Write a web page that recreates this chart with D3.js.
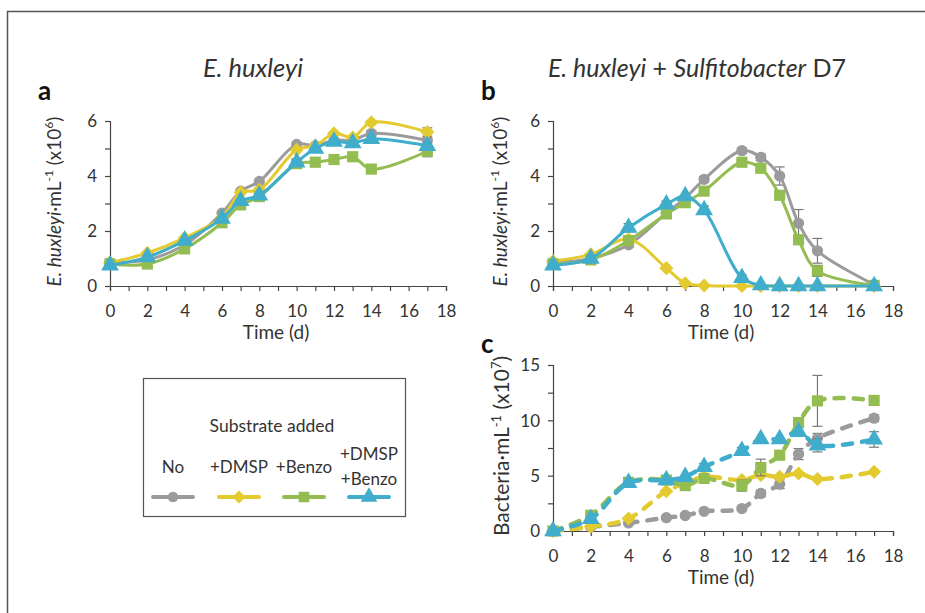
<!DOCTYPE html>
<html>
<head>
<meta charset="utf-8">
<script src="https://d3js.org/d3.v7.min.js"></script>
<style>
  body { margin: 0; background: #fff; }
  svg text { font-family: Lato, "Open Sans", sans-serif; fill: #333; }
</style>
</head>
<body>
<svg width="925" height="613"></svg>
<script>
// sampling days
var days = [0, 2, 4, 6, 7, 8, 10, 11, 12, 13, 14, 17];

// a: E. huxleyi alone (x10^6 cells/mL)
var aNo    = [0.85, 0.95, 1.5, 2.65, 3.45, 3.8, 5.15, 5.1, 5.3, 5.3, 5.55, 5.3];
var aDmsp  = [0.85, 1.2, 1.75, 2.5, 3.4, 3.5, 4.95, 5.1, 5.55, 5.4, 5.95, 5.6];
var aBenzo = [0.8, 0.8, 1.35, 2.3, 2.95, 3.25, 4.45, 4.5, 4.6, 4.7, 4.25, 4.9];
var aBoth  = [0.75, 1.05, 1.65, 2.45, 3.1, 3.3, 4.5, 5.0, 5.25, 5.2, 5.35, 5.1];
var aErrNo    = [0, 0, 0, 0, 0, 0, 0, 0, 0, 0, 0.1, 0.35];
var aErrDmsp  = [0, 0, 0, 0, 0, 0, 0, 0, 0, 0, 0.05, 0.15];
var aErrBenzo = [0, 0, 0, 0, 0, 0, 0, 0, 0, 0, 0, 0.2];
var aErrBoth  = [0, 0, 0, 0, 0, 0, 0, 0, 0, 0, 0, 0.1];

// b: E. huxleyi with Sulfitobacter D7 (x10^6 cells/mL)
var bNo    = [0.85, 1.0, 1.5, 2.65, 3.2, 3.88, 4.92, 4.68, 4.0, 2.28, 1.28, 0.05];
var bDmsp  = [0.9, 1.15, 1.7, 0.65, 0.1, 0.02, 0, 0, 0, 0, 0, 0];
var bBenzo = [0.8, 0.95, 1.65, 2.62, 3.03, 3.45, 4.5, 4.28, 3.3, 1.68, 0.55, 0.02];
var bBoth  = [0.75, 1.0, 2.12, 2.97, 3.27, 2.76, 0.3, 0.03, 0, 0, 0, 0];
var bErrNo    = [0, 0, 0.1, 0, 0, 0.1, 0.1, 0.12, 0.33, 0.5, 0.45, 0];
var bErrDmsp  = [0, 0, 0, 0, 0, 0, 0, 0, 0, 0, 0, 0];
var bErrBenzo = [0, 0, 0, 0.1, 0, 0, 0, 0, 0.1, 0, 0.2, 0];
var bErrBoth  = [0, 0, 0.15, 0.12, 0, 0.15, 0.1, 0, 0, 0, 0, 0];

// c: bacteria (x10^7 cells/mL)
var cNo    = [0, 0.36, 0.73, 1.2, 1.4, 1.78, 2.03, 3.39, 4.23, 6.95, 8.37, 10.19];
var cDmsp  = [0, 0.4, 1.12, 3.6, 4.3, 4.9, 4.6, 5.05, 4.9, 5.2, 4.7, 5.35];
var cBenzo = [0, 1.42, 4.4, 4.6, 4.1, 4.75, 4.1, 5.74, 6.85, 9.8, 11.76, 11.8];
var cBoth  = [0, 1.1, 4.35, 4.6, 4.9, 5.8, 7.25, 8.3, 8.3, 8.97, 7.75, 8.27];
var cErrNo    = [0, 0, 0, 0, 0, 0, 0, 0.3, 0.4, 0.5, 0.45, 0.3];
var cErrDmsp  = [0, 0, 0, 0, 0, 0, 0, 0, 0, 0, 0, 0];
var cErrBenzo = [0, 0, 0, 0, 0, 0, 0.5, 0.75, 0, 0, 2.3, 0];
var cErrBoth  = [0, 0, 0, 0, 0, 0.3, 0.3, 0, 0, 0, 0.6, 0.7];

var seriesNames = ["No", "+DMSP", "+Benzo", "+DMSP\n+Benzo"];
var colors = ["#9b9b9d", "#e3ca2e", "#93bd50", "#3fadcb"];
var shapes = [d3.symbolCircle, d3.symbolDiamond2, d3.symbolSquare, d3.symbolTriangle];
var symSizes = [80, 100, 100, 110];

var svg = d3.select("svg");

// outer frame
svg.append("rect")
    .attr("x", 7.5).attr("y", 11.5)
    .attr("width", 940).attr("height", 640)
    .attr("fill", "none").attr("stroke", "#555").attr("stroke-width", 1.5);

function panel(opt) {
    var x = d3.scaleLinear().domain([0, 18]).range([opt.x0, opt.x1]);
    var y = d3.scaleLinear().domain([0, opt.ymax]).range([opt.y0, opt.y1]);
    var g = svg.append("g");

    // x axis
    var xa = g.append("g").attr("transform", "translate(0," + opt.y0 + ")")
        .call(d3.axisBottom(x).tickValues(d3.range(0, 19, 1)).tickSize(5)
            .tickFormat(function (d) { return d % 2 == 0 ? d : ""; }));
    xa.selectAll("text").attr("dy", 0).attr("y", 31)
        .style("font-size", "17px");
    // y axis
    var ya = g.append("g").attr("transform", "translate(" + opt.x0 + ",0)")
        .call(d3.axisLeft(y).tickValues(d3.range(0, opt.ymax + 0.01, opt.minor)).tickSize(5)
            .tickFormat(function (d) { return Math.abs(d / opt.major - Math.round(d / opt.major)) < 1e-6 ? d : ""; }));
    ya.selectAll("text").attr("x", -13).attr("dy", "0.35em")
        .style("font-size", "17px");
    g.selectAll(".domain, .tick line").attr("stroke", "#444").attr("stroke-width", 1.2);

    // axis titles
    g.append("text").attr("x", (opt.x0 + opt.x1) / 2 - 2).attr("y", opt.y0 + 53)
        .attr("text-anchor", "middle").style("font-size", "19px").text("Time (d)");
    var yl = g.append("text")
        .attr("transform", "translate(" + opt.ylx + "," + ((opt.y0 + opt.y1) / 2 - 2) + ") rotate(-90)")
        .attr("text-anchor", "middle").style("font-size", opt.ylSize);
    opt.ylabel(yl);

    var line = d3.line()
        .x(function (d) { return x(d[0]); })
        .y(function (d) { return y(d[1]); })
        .curve(d3.curveCatmullRom.alpha(0.5));

    opt.series.forEach(function (vals, i) {
        var pts = days.map(function (t, k) { return [t, vals[k], opt.errs[i][k]]; });
        var sg = g.append("g");
        // error bars
        pts.filter(function (p) { return p[2] > 0; }).forEach(function (p) {
            var eg = sg.append("g").attr("stroke", "#7a7a7a").attr("stroke-width", 1.2);
            eg.append("line").attr("x1", x(p[0])).attr("x2", x(p[0]))
                .attr("y1", y(p[1] - p[2])).attr("y2", y(p[1] + p[2]));
            [p[1] - p[2], p[1] + p[2]].forEach(function (v) {
                eg.append("line").attr("x1", x(p[0]) - 5).attr("x2", x(p[0]) + 5)
                    .attr("y1", y(v)).attr("y2", y(v));
            });
        });
        sg.append("path").datum(pts).attr("d", line)
            .attr("fill", "none").attr("stroke", colors[i])
            .attr("stroke-width", opt.dashed ? 4.5 : 3)
            .attr("stroke-linecap", opt.dashed ? "round" : "butt")
            .attr("stroke-dasharray", opt.dashed ? "9,10" : null);
        sg.selectAll(".m").data(pts).enter().append("path")
            .attr("transform", function (d) { return "translate(" + x(d[0]) + "," + y(d[1]) + ")"; })
            .attr("d", d3.symbol().type(shapes[i]).size(symSizes[i] * 1.25))
            .attr("fill", colors[i]);
    });
}

function hux(t, exp) {
    t.append("tspan").style("font-style", "italic").text("E. huxleyi");
    t.append("tspan").text("\u00b7mL");
    t.append("tspan").attr("dy", -8).style("font-size", "12px").text("-1");
    t.append("tspan").attr("dy", 8).text(" (x10");
    t.append("tspan").attr("dy", -8).style("font-size", "12px").text(exp);
    t.append("tspan").attr("dy", 8).text(")");
}

panel({
    x0: 110, x1: 446, y0: 286, y1: 121, ymax: 6, minor: 1, major: 2, ylx: 61, ylSize: "19px",
    ylabel: function (t) { hux(t, "6"); },
    series: [aNo, aDmsp, aBenzo, aBoth],
    errs: [aErrNo, aErrDmsp, aErrBenzo, aErrBoth]
});
panel({
    x0: 553, x1: 893, y0: 286, y1: 121, ymax: 6, minor: 1, major: 2, ylx: 507, ylSize: "19px",
    ylabel: function (t) { hux(t, "6"); },
    series: [bNo, bDmsp, bBenzo, bBoth],
    errs: [bErrNo, bErrDmsp, bErrBenzo, bErrBoth]
});
panel({
    x0: 553, x1: 893, y0: 531, y1: 365, ymax: 15, minor: 2.5, major: 5, ylx: 509, ylSize: "21px", dashed: true,
    ylabel: function (t) {
        t.append("tspan").text("Bacteria\u00b7mL");
        t.append("tspan").attr("dy", -8).style("font-size", "13px").text("-1");
        t.append("tspan").attr("dy", 8).text(" (x10");
        t.append("tspan").attr("dy", -8).style("font-size", "13px").text("7");
        t.append("tspan").attr("dy", 8).text(")");
    },
    series: [cNo, cDmsp, cBenzo, cBoth],
    errs: [cErrNo, cErrDmsp, cErrBenzo, cErrBoth]
});

// titles and panel letters
svg.append("text").attr("x", 253).attr("y", 77).attr("text-anchor", "middle")
    .style("font-size", "25.5px").style("font-style", "italic").text("E. huxleyi");
var tb = svg.append("text").attr("x", 697).attr("y", 77).attr("text-anchor", "middle")
    .style("font-size", "25px");
tb.append("tspan").style("font-style", "italic").text("E. huxleyi");
tb.append("tspan").text(" + ");
tb.append("tspan").style("font-style", "italic").text("Sulfitobacter");
tb.append("tspan").text(" D7");
[["a", 38, 100], ["b", 481, 100], ["c", 481, 353]].forEach(function (l) {
    svg.append("text").attr("x", l[1]).attr("y", l[2])
        .style("font-size", "26px").style("font-weight", "bold").style("fill", "#111").text(l[0]);
});

// legend
var lg = svg.append("g");
lg.append("rect").attr("x", 143.5).attr("y", 378.5).attr("width", 262).attr("height", 138)
    .attr("fill", "#fff").attr("stroke", "#555").attr("stroke-width", 1.2);
lg.append("text").attr("x", 272).attr("y", 432).attr("text-anchor", "middle")
    .style("font-size", "17.5px").text("Substrate added");
var legX = [173, 239, 304, 369];
seriesNames.forEach(function (name, i) {
    var parts = name.split("\n");
    var t = lg.append("text").attr("text-anchor", "middle").style("font-size", "17px");
    parts.forEach(function (p, k) {
        t.append("tspan").attr("x", legX[i])
            .attr("y", parts.length == 1 ? 473 : 460 + k * 25).text(p);
    });
    lg.append("line").attr("x1", legX[i] - 20).attr("x2", legX[i] + 20)
        .attr("y1", 497).attr("y2", 497)
        .attr("stroke", colors[i]).attr("stroke-width", 4).attr("stroke-linecap", "round");
    lg.append("path").attr("transform", "translate(" + legX[i] + ",497)")
        .attr("d", d3.symbol().type(shapes[i]).size(symSizes[i] * 1.1))
        .attr("fill", colors[i]);
});
</script>
</body>
</html>
